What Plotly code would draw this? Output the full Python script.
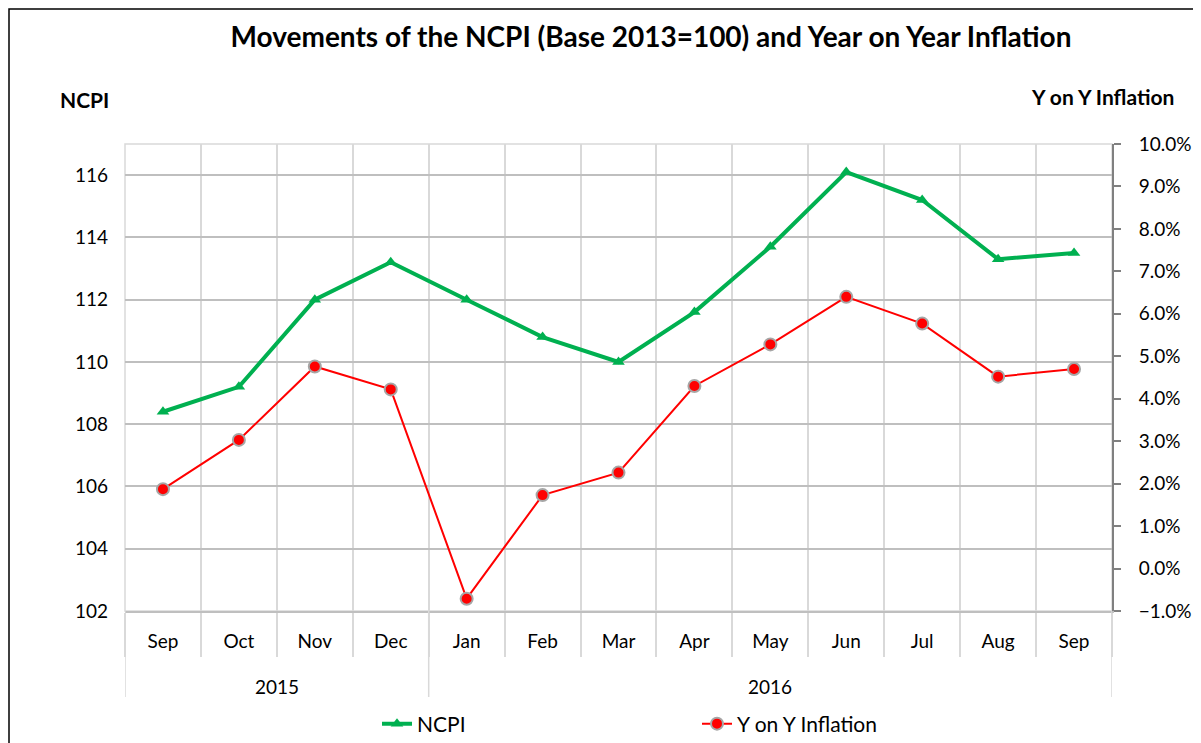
import plotly.graph_objects as go

months = ["Sep", "Oct", "Nov", "Dec", "Jan", "Feb", "Mar", "Apr", "May", "Jun", "Jul", "Aug", "Sep"]
years = ["2015", "2016"]
year_spans = [(0, 3), (4, 12)]  # first and last month index of each year group
ncpi = [108.4, 109.2, 112.0, 113.2, 112.0, 110.8, 110.0, 111.6, 113.7, 116.1, 115.2, 113.3, 113.5]
inflation = [1.87, 3.03, 4.76, 4.22, -0.71, 1.73, 2.26, 4.30, 5.28, 6.40, 5.77, 4.52, 4.70]

FONT = "Lato"
OFF = 8  # page body margin
W, H = 1201, 743
# plot area in page pixels: left 125, right 1112, top 144, bottom 611
L = 125 - OFF
T = 144 - OFF
R = W - (1112 - OFF)
B = H - (611 - OFF)
pw, ph = W - L - R, H - T - B

def px_x(p):
    return (p - OFF - L) / pw

def px_y(p):
    return (H - B - (p - OFF)) / ph

xs = list(range(len(months)))
bounds = [i - 0.5 for i in range(len(months) + 1)]

fig = go.Figure()
fig.add_trace(go.Scatter(
    x=xs, y=ncpi, name="NCPI", mode="lines+markers",
    line=dict(color="#00B050", width=4),
    marker=dict(symbol="triangle-up", size=11, color="#00B050"),
))
fig.add_trace(go.Scatter(
    x=xs, y=inflation, name="Y on Y Inflation", mode="lines+markers",
    yaxis="y2",
    line=dict(color="#FF0000", width=2),
    marker=dict(symbol="circle", size=12, color="#FF0000", line=dict(color="#A6A6A6", width=2)),
))

fig.update_layout(
    width=W, height=H,
    margin=dict(l=L, r=R, t=T, b=B, autoexpand=False),
    paper_bgcolor="white", plot_bgcolor="white",
    font=dict(family=FONT, size=19, color="#000000"),
    title=dict(text="<b>Movements of the NCPI (Base 2013=100) and Year on Year Inflation</b>",
               x=(651 - OFF) / W, xref="container", xanchor="center",
               y=1 - (37 - OFF) / H, yref="container", yanchor="middle",
               font=dict(family=FONT, size=28, color="#000000")),
    xaxis=dict(range=[-0.5, len(months) - 0.5], tickmode="array", tickvals=xs, ticktext=months,
               showgrid=False, ticks="", ticklabelstandoff=12, zeroline=False,
               showline=True, linecolor="#BFBFBF", linewidth=2,
               tickfont=dict(family=FONT, size=19),
               minor=dict(tickmode="array", tickvals=bounds, showgrid=True,
                          gridcolor="#D9D9D9", gridwidth=1.5,
                          ticks="outside", ticklen=44, tickcolor="#D9D9D9", tickwidth=1.5)),
    yaxis=dict(range=[102, 117], dtick=2, tick0=102, showgrid=True,
               gridcolor="#BFBFBF", gridwidth=1.5, zeroline=False,
               showline=False, ticks="", ticklabelstandoff=16,
               tickfont=dict(family=FONT, size=19)),
    yaxis2=dict(range=[-1, 10], dtick=1, tick0=-1, overlaying="y", side="right",
                showgrid=False, zeroline=False, tickformat=".1f", ticksuffix="%",
                showline=True, linecolor="#808080", linewidth=2,
                ticks="outside", ticklen=7, tickcolor="#808080", tickwidth=1.5,
                ticklabelstandoff=14,
                tickfont=dict(family=FONT, size=19)),
    legend=dict(orientation="h", x=px_x(377), xanchor="left", y=px_y(724), yanchor="middle",
                entrywidth=275, entrywidthmode="pixels",
                font=dict(family=FONT, size=21), bgcolor="rgba(0,0,0,0)"),
    showlegend=True,
)

# year group labels and dividers
for name, (a, b) in zip(years, year_spans):
    fig.add_annotation(text=name, xref="x", yref="paper", x=(a + b) / 2, y=px_y(686),
                       xanchor="center", yanchor="middle", showarrow=False,
                       font=dict(family=FONT, size=19, color="#000000"))
for xb in sorted({a - 0.5 for a, _ in year_spans} | {b + 0.5 for _, b in year_spans}):
    fig.add_shape(type="line", xref="x", yref="paper", x0=xb, x1=xb, y0=0, y1=px_y(697),
                  line=dict(color="#D9D9D9", width=1.5))

fig.add_annotation(text="<b>NCPI</b>", xref="paper", yref="paper", x=px_x(84), y=px_y(100),
                   xanchor="center", yanchor="middle", showarrow=False,
                   font=dict(family=FONT, size=21, color="#000000"))
fig.add_annotation(text="<b>Y on Y Inflation</b>", xref="paper", yref="paper", x=px_x(1176), y=px_y(97),
                   xanchor="right", yanchor="middle", showarrow=False,
                   font=dict(family=FONT, size=21, color="#000000"))

# plot area border and outer chart border
fig.add_shape(type="rect", xref="paper", yref="paper", x0=0, x1=1, y0=0, y1=1,
              line=dict(color="#D9D9D9", width=1.5), layer="below")
fig.add_shape(type="rect", xref="paper", yref="paper", x0=px_x(OFF + 1), x1=px_x(1197),
              y0=px_y(790), y1=px_y(OFF + 1), line=dict(color="#000000", width=1.5), layer="below")

fig.write_html("out.html")
